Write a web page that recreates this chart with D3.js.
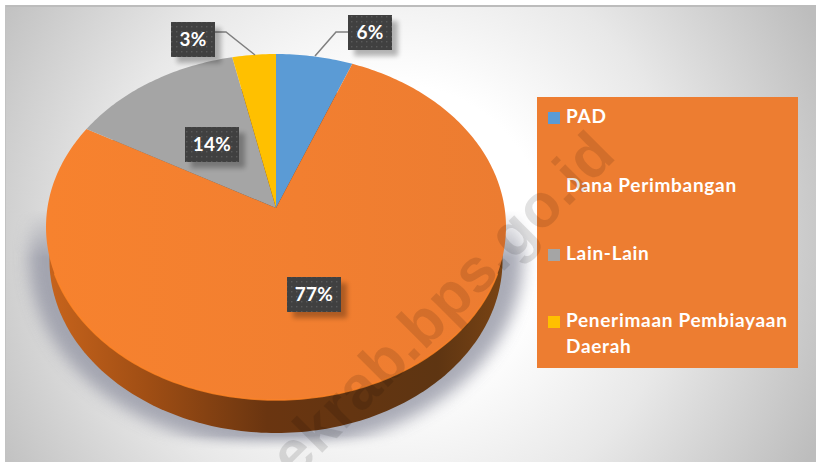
<!DOCTYPE html>
<html><head><meta charset="utf-8">
<script src="https://cdnjs.cloudflare.com/ajax/libs/d3/7.8.5/d3.min.js"></script>
<style>html,body{margin:0;padding:0;background:#fff}svg{display:block}</style>
</head><body><svg id="c" width="816" height="462"></svg>
<script>
const categories = ["PAD","Dana Perimbangan","Lain-Lain","Penerimaan Pembiayaan Daerah"];
const values = [6.0,77.1,13.5,3.4];
const colors = ["#5b9bd5","url(#orangeFace)","#a5a5a5","#ffc000"];
const legendColors = ["#5b9bd5","#ed7d31","#a5a5a5","#ffc000"];
const legendLines = [["PAD"],["Dana Perimbangan"],["Lain-Lain"],["Penerimaan Pembiayaan","Daerah"]];
const legendY = [123,192,260,327];
const labelBoxes = [[348,15,44,35],[287,277,54,35],[185,127,54,35],[171,22,44,35]];
const leaders = [[[348,32],[336,32],[315,56]],null,null,[[215,32],[226,32],[255,55]]];

const svg = d3.select("#c");
const defs = svg.append("defs");
const font = "Lato, 'Open Sans', sans-serif";

const bg = defs.append("radialGradient").attr("id","bg").attr("gradientUnits","userSpaceOnUse")
  .attr("cx",395).attr("cy",235).attr("r",470);
[[0,"#ffffff"],[0.32,"#ffffff"],[0.62,"#e8e8e8"],[1,"#bdbdbd"]].forEach(s=>bg.append("stop").attr("offset",s[0]).attr("stop-color",s[1]));
const of = defs.append("linearGradient").attr("id","orangeFace").attr("gradientUnits","userSpaceOnUse")
  .attr("x1",46).attr("x2",506).attr("y1",0).attr("y2",0);
[[0,"#f7822e"],[0.55,"#f27f30"],[1,"#ec7c31"]].forEach(s=>of.append("stop").attr("offset",s[0]).attr("stop-color",s[1]));
const sg = defs.append("linearGradient").attr("id","side").attr("gradientUnits","userSpaceOnUse")
  .attr("x1",46).attr("x2",506).attr("y1",0).attr("y2",0);
[[0,"#c8641c"],[0.22,"#a04e14"],[0.48,"#6a3510"],[0.85,"#5e3512"],[1,"#7a4414"]].forEach(s=>sg.append("stop").attr("offset",s[0]).attr("stop-color",s[1]));
defs.append("filter").attr("id","blur").attr("x","-20%").attr("y","-20%").attr("width","140%").attr("height","140%")
  .append("feGaussianBlur").attr("stdDeviation",8);
defs.append("filter").attr("id","blur2").attr("x","-30%").attr("y","-30%").attr("width","160%").attr("height","160%")
  .append("feGaussianBlur").attr("stdDeviation",2.5);
const fade = defs.append("linearGradient").attr("id","fade").attr("gradientUnits","userSpaceOnUse")
  .attr("x1",0).attr("x2",0).attr("y1",210).attr("y2",450);
[[0,"#000"],[0.2,"#fff"],[0.94,"#fff"],[1,"#000"]].forEach(s=>fade.append("stop").attr("offset",s[0]).attr("stop-color",s[1]));
defs.append("mask").attr("id","shadowMask").attr("maskUnits","userSpaceOnUse").attr("x",0).attr("y",0).attr("width",816).attr("height",462)
  .append("rect").attr("width",816).attr("height",462).attr("fill","url(#fade)");
const pat = defs.append("pattern").attr("id","dots").attr("patternUnits","userSpaceOnUse").attr("width",5).attr("height",5);
pat.append("rect").attr("width",5).attr("height",5).attr("fill","#404040");
pat.append("rect").attr("x",1).attr("y",1).attr("width",1.4).attr("height",1.4).attr("fill","#5a5a5a");

// page + image area
svg.append("rect").attr("x",5).attr("y",5).attr("width",811).attr("height",457).attr("fill","url(#bg)");
svg.append("rect").attr("x",5).attr("y",5).attr("width",811).attr("height",2).attr("fill","#bcbcbc");
svg.append("rect").attr("x",5).attr("y",5).attr("width",1).attr("height",457).attr("fill","#c2c2c2");

// perspective projection of the pie disc
const cx=276, cy=208, A=228.6, S=170.9, K=0.11;
const proj=(a,r=1,dy=0)=>{const u=r*Math.sin(a),v=r*Math.cos(a),w=1+K*v;return [cx+A*u/w,cy+dy-S*v/w];};
const line=d3.line();
const rim=(a0,a1)=>d3.range(0,1.0001,1/Math.max(8,Math.ceil((a1-a0)*60))).map(t=>proj(a0+(a1-a0)*t));
const arcs=d3.pie().sort(null).value(d=>d)(values);
const color=d3.scaleOrdinal(categories,colors);

// shadow
svg.append("g").attr("mask","url(#shadowMask)").append("ellipse")
  .attr("cx",276).attr("cy",258).attr("rx",247).attr("ry",190).attr("fill","#9496a4").attr("opacity",.8).attr("filter","url(#blur)");

// side wall
const full=d3.range(0,Math.PI*2,0.02);
svg.append("path").attr("d",line.curve(d3.curveLinearClosed)(full.map(a=>proj(a,1,33).map((p,i)=>i?p:cx+(p-cx)*0.985))))
  .attr("fill","url(#side)");
line.curve(d3.curveLinear);

// top face
svg.append("g").selectAll("path").data(arcs).join("path")
  .attr("d",d=>line([[cx,cy],...rim(d.startAngle,d.endAngle)])+"Z")
  .attr("fill",(d,i)=>color(categories[i]));
svg.append("path").attr("d",line(rim(Math.PI*0.62,Math.PI*1.38))).attr("fill","none").attr("stroke","#ff8526").attr("stroke-width",1.5).attr("opacity",.8);

// leaders
svg.append("g").selectAll("path").data(leaders.filter(Boolean)).join("path")
  .attr("d",d=>line(d)).attr("fill","none").attr("stroke","#7f7f7f").attr("stroke-width",1.5);

// data labels
const lab=svg.append("g").selectAll("g").data(arcs).join("g");
lab.append("rect").attr("x",(d,i)=>labelBoxes[i][0]+6).attr("y",(d,i)=>labelBoxes[i][1]+6)
  .attr("width",(d,i)=>labelBoxes[i][2]).attr("height",(d,i)=>labelBoxes[i][3]).attr("fill","#000").attr("opacity",.28).attr("filter","url(#blur2)");
lab.append("rect").attr("x",(d,i)=>labelBoxes[i][0]).attr("y",(d,i)=>labelBoxes[i][1])
  .attr("width",(d,i)=>labelBoxes[i][2]).attr("height",(d,i)=>labelBoxes[i][3]).attr("fill","url(#dots)");
lab.append("text").attr("x",(d,i)=>labelBoxes[i][0]+labelBoxes[i][2]/2).attr("y",(d,i)=>labelBoxes[i][1]+24)
  .attr("text-anchor","middle").attr("fill","#fff").attr("font-family",font).attr("font-weight",700).attr("font-size",19).attr("letter-spacing",.3)
  .text(d=>Math.round(d.value)+"%");

// legend
svg.append("rect").attr("x",537).attr("y",97).attr("width",261).attr("height",271).attr("fill","#ed7d31");
const lg=svg.append("g").selectAll("g").data(categories).join("g");
lg.append("rect").attr("x",548).attr("y",(d,i)=>legendY[i]-11).attr("width",12).attr("height",12).attr("fill",(d,i)=>legendColors[i]);
lg.each(function(d,i){
  d3.select(this).selectAll("text").data(legendLines[i]).join("text")
    .attr("x",566).attr("y",(t,j)=>legendY[i]+j*26).attr("fill","#fff")
    .attr("font-family",font).attr("font-weight",700).attr("font-size",19).attr("letter-spacing",.7).text(t=>t);
});

// watermark (runs off the picture at the bottom, as in the source image)
svg.append("text").attr("transform","translate(295,480) rotate(-45)")
  .attr("font-family","'Liberation Sans',Arial,sans-serif").attr("font-weight",700).attr("font-size",61)
  .attr("letter-spacing",.4).attr("fill","#000").attr("opacity",.11).text("ekrab.bps.go.id");
</script></body></html>
